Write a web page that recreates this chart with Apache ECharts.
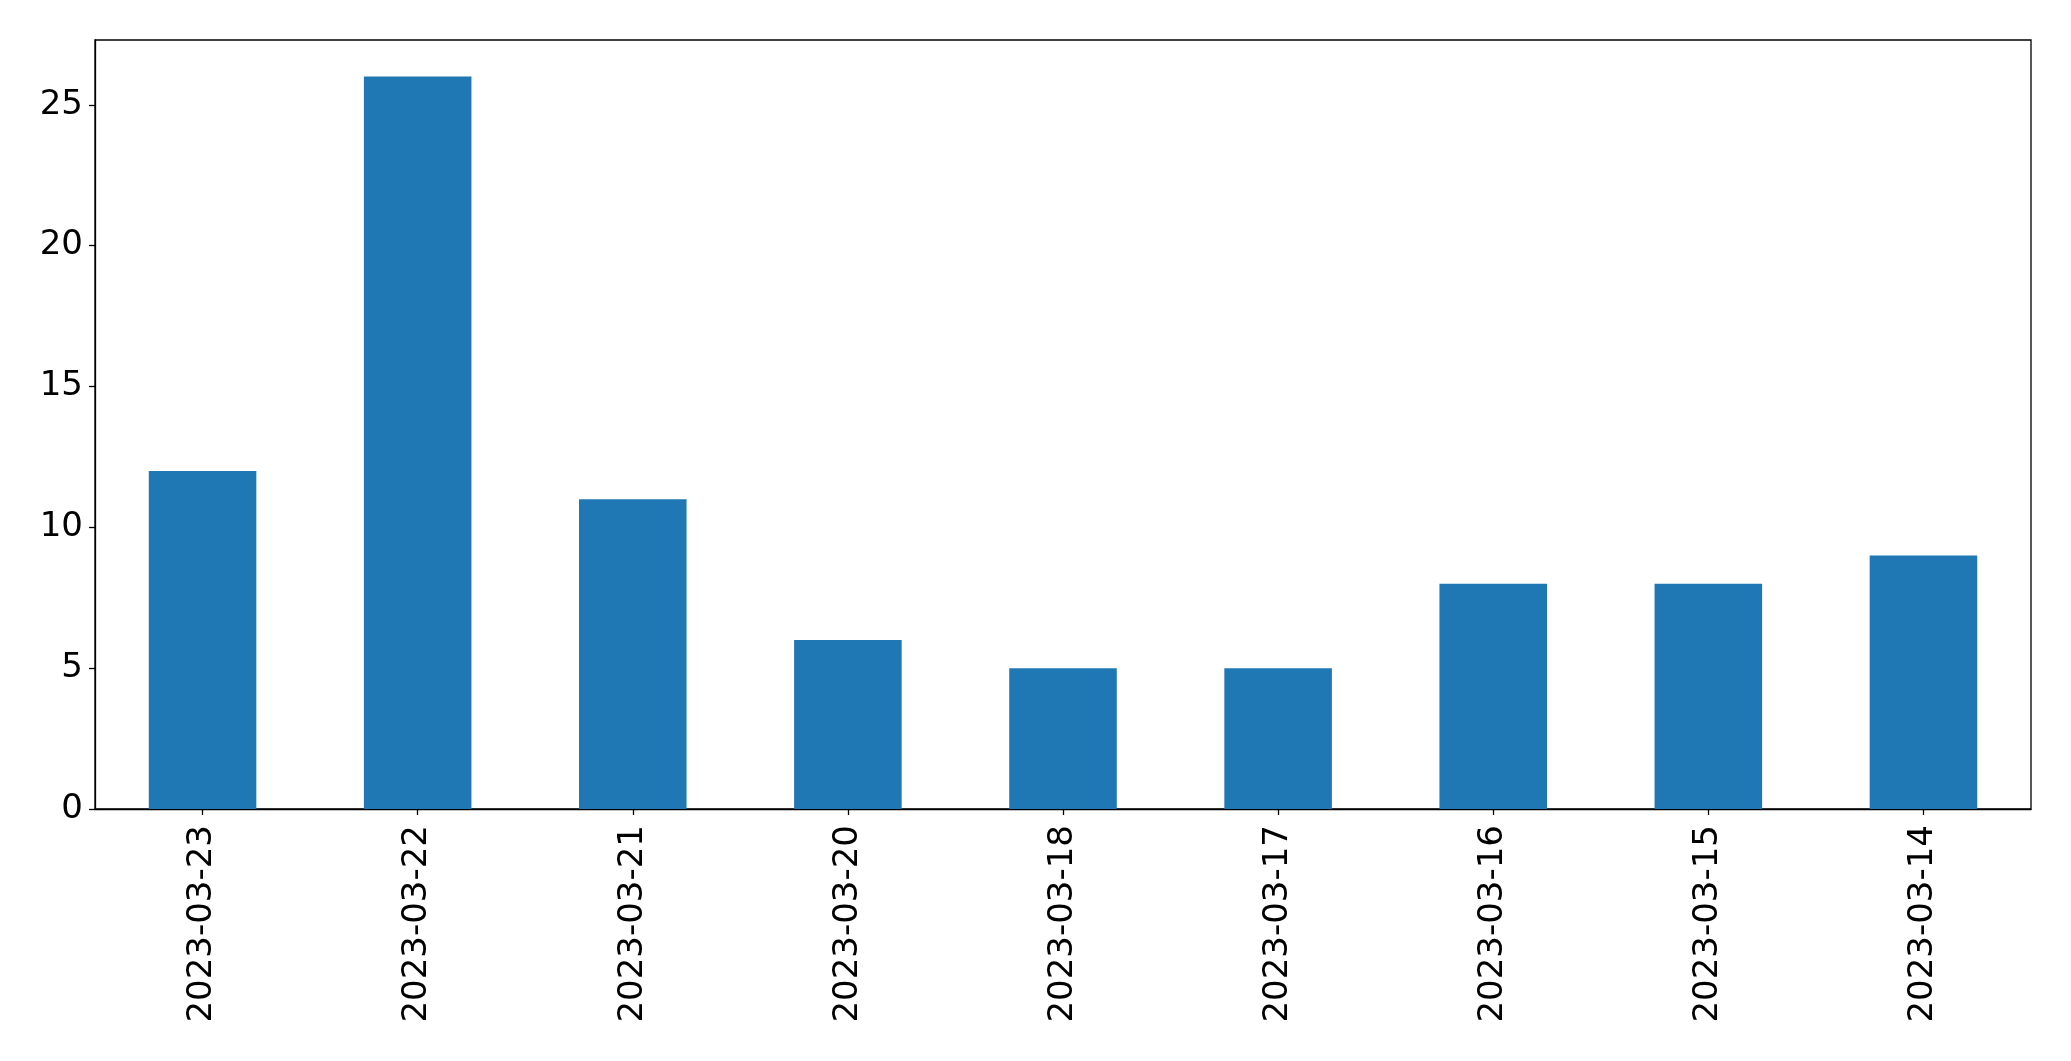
<!DOCTYPE html>
<html>
<head>
<meta charset="utf-8">
<script src="https://cdn.jsdelivr.net/npm/echarts@6/dist/echarts.min.js"></script>
<style>
html,body{margin:0;padding:0;background:#fff;}
#c{width:2071px;height:1061px;}
</style>
</head>
<body>
<div id="c"></div>
<script>
const categories = ["2023-03-23","2023-03-22","2023-03-21","2023-03-20","2023-03-18","2023-03-17","2023-03-16","2023-03-15","2023-03-14"];
const values = [12, 26, 11, 6, 5, 5, 8, 8, 9];
const yTicks = [0, 5, 10, 15, 20, 25];

const chart = echarts.init(document.getElementById('c'), null, {renderer: 'canvas'});
const font = 'DejaVu Sans';
chart.setOption({
  animation: false,
  backgroundColor: '#fff',
  grid: {left: 95, top: 40, width: 1936, height: 769, show: true, borderColor: '#000', borderWidth: 1.3, backgroundColor: 'transparent'},
  xAxis: {
    type: 'category',
    data: categories,
    boundaryGap: true,
    axisLine: {show: true, lineStyle: {color: '#000', width: 1.3}},
    axisTick: {show: true, alignWithLabel: true, length: 6, lineStyle: {color: '#000', width: 1.3}},
    axisLabel: {rotate: 90, fontFamily: font, fontSize: 34, color: '#000', margin: 16, interval: 0},
    splitLine: {show: false}
  },
  yAxis: {
    type: 'value',
    min: 0,
    max: 27.3,
    interval: 5,
    axisLine: {show: true, lineStyle: {color: '#000', width: 1.3}},
    axisTick: {show: true, length: 6, lineStyle: {color: '#000', width: 1.3}, customValues: yTicks},
    axisLabel: {fontFamily: font, fontSize: 34, color: '#000', margin: 12, customValues: yTicks},
    splitLine: {show: false}
  },
  series: [{
    type: 'bar',
    data: values,
    barWidth: '50%',
    itemStyle: {color: '#1f77b4'}
  }]
});
</script>
</body>
</html>
